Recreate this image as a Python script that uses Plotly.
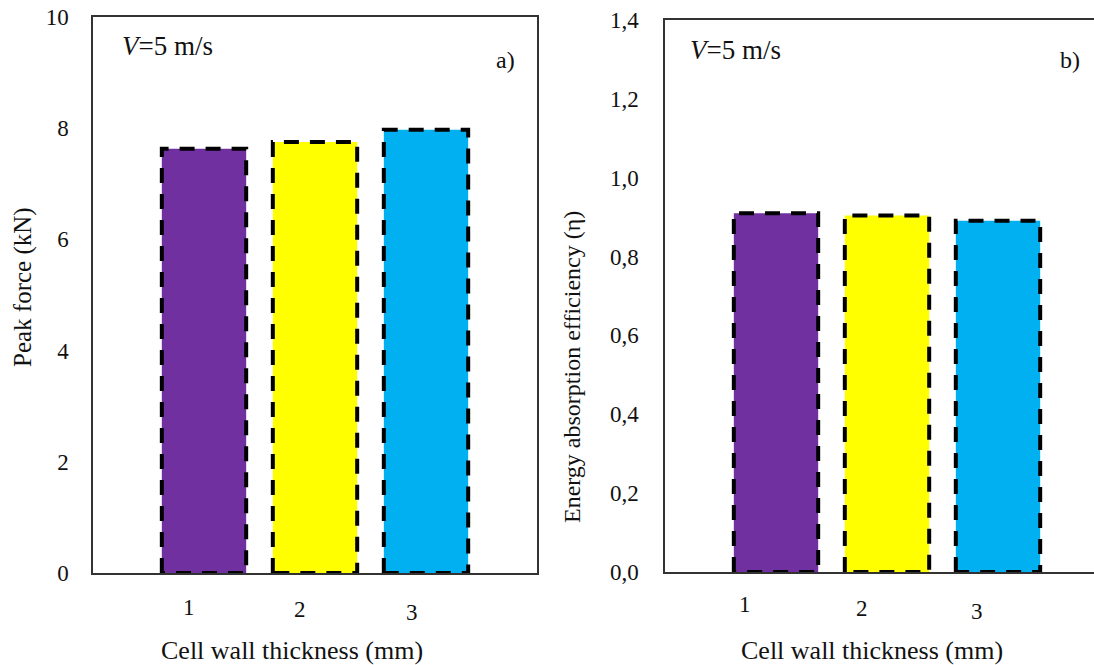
import plotly.graph_objects as go

# ---- data ----
thickness = [1, 2, 3]                      # Cell wall thickness (mm)
tick_labels = ["1", "2", "3"]
peak_force = [7.63, 7.75, 7.97]            # kN
efficiency = [0.910, 0.904, 0.891]         # energy absorption efficiency
bar_colors = ["#7030A0", "#FFFF00", "#00B0F0"]

W, H = 1094, 665
FONT = "'Times New Roman', 'Liberation Serif', 'DejaVu Serif', serif"
BAR_W = 0.76
TXT = "#111111"


def px(x):
    return x / W


def py(y):
    return 1 - y / H


fig = go.Figure()


def add_panel(values, xa, ya):
    fig.add_trace(go.Bar(
        x=thickness, y=values, width=BAR_W,
        marker=dict(color=bar_colors, line=dict(width=0)),
        xaxis=xa, yaxis=ya, showlegend=False, hoverinfo="skip"))
    for c, v in zip(thickness, values):
        xs = [c - BAR_W / 2, c - BAR_W / 2, c + BAR_W / 2, c + BAR_W / 2, c - BAR_W / 2]
        ys = [0, v, v, 0, 0]
        fig.add_trace(go.Scatter(
            x=xs, y=ys, mode="lines",
            line=dict(color="black", width=4, dash="15px,11px"),
            xaxis=xa, yaxis=ya, showlegend=False, hoverinfo="skip"))


add_panel(peak_force, "x", "y")
add_panel(efficiency, "x2", "y2")

axis_line = dict(showline=True, linecolor="#333333", linewidth=1.5,
                 showgrid=False, zeroline=False, ticks="", automargin=False)
tickfont = dict(family=FONT, size=23, color=TXT)

fig.update_layout(
    template="none",
    width=W, height=H,
    margin=dict(l=0, r=0, t=0, b=0, pad=0),
    paper_bgcolor="white", plot_bgcolor="white",
    separators=",.",
    font=dict(family=FONT, color=TXT),
    xaxis=dict(domain=[px(93), px(537)], range=[0, 4], showticklabels=False,
               mirror=True, anchor="y", **axis_line),
    yaxis=dict(domain=[py(573), py(17)], range=[0, 10], dtick=2,
               tickfont=tickfont, ticklabelstandoff=18,
               mirror=True, anchor="x", **axis_line),
    xaxis2=dict(domain=[px(665), 1], range=[0, (1094 - 665) / 111],
                showticklabels=False, mirror=True, anchor="y2", **axis_line),
    yaxis2=dict(domain=[py(572), py(20)], range=[0, 1.4], dtick=0.2,
                tickformat=".1f", tickfont=tickfont, ticklabelstandoff=20,
                mirror=False, anchor="x2", **axis_line),
)


def note(x, y, text, size, xanchor="center", angle=0):
    return dict(x=px(x), y=py(y), xref="paper", yref="paper", text=text,
                xanchor=xanchor, yanchor="middle", textangle=angle,
                showarrow=False, font=dict(family=FONT, size=size, color=TXT))


ann = []
# x tick labels (offset text boxes as in the original)
left_shift = [-15, -15, -14]
left_y = [607, 609, 612]
right_shift = [-31, -25, -21]
right_y = [604, 608, 611]
for i, (c, t) in enumerate(zip(thickness, tick_labels)):
    ann.append(dict(x=c, y=py(left_y[i]), xref="x", yref="paper", yanchor="middle",
                    xanchor="center", xshift=left_shift[i],
                    text=t, showarrow=False,
                    font=dict(family=FONT, size=23, color=TXT)))
    ann.append(dict(x=c, y=py(right_y[i]), xref="x2", yref="paper",
                    yanchor="middle", xanchor="center", xshift=right_shift[i],
                    text=t, showarrow=False,
                    font=dict(family=FONT, size=23, color=TXT)))

ann += [
    note(292, 650, "Cell wall thickness (mm)", 26),
    note(872, 650, "Cell wall thickness (mm)", 26),
    note(23, 287, "Peak force (kN)", 25, angle=-90),
    note(572, 367, "Energy absorption efficiency (η)", 24, angle=-90),
    note(120, 46, "<i>V</i>=5 m/s", 27, xanchor="left"),
    note(688, 50, "<i>V</i>=5 m/s", 27, xanchor="left"),
    note(505, 60, "a)", 24),
    note(1070, 60, "b)", 24),
]
fig.update_layout(annotations=ann)

fig.write_html("out.html")
